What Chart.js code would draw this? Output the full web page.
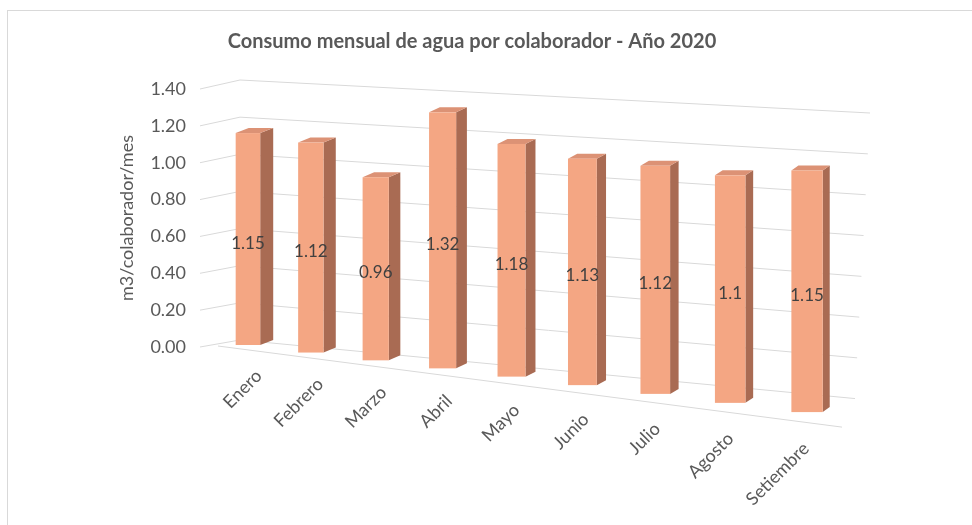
<!DOCTYPE html>
<html>
<head>
<meta charset="utf-8">
<script src="https://cdn.jsdelivr.net/npm/chart.js@4.4.1/dist/chart.umd.min.js"></script>
<style>
  html, body { margin: 0; padding: 0; background: #fff; }
  #wrap { position: relative; width: 972px; height: 525px; overflow: hidden; }
  #frame { position: absolute; left: 7px; top: 10px; width: 980px; height: 530px;
           border-left: 1px solid #d9d9d9; border-top: 1px solid #d9d9d9; }
  canvas { position: absolute; left: 0; top: 0; }
</style>
</head>
<body>
<div id="wrap">
  <div id="frame"></div>
  <canvas id="chart" width="972" height="525"></canvas>
</div>
<script>
// datos
const meses = ['Enero', 'Febrero', 'Marzo', 'Abril', 'Mayo', 'Junio', 'Julio', 'Agosto', 'Setiembre'];
const consumo = [1.15, 1.12, 0.96, 1.32, 1.18, 1.13, 1.12, 1.1, 1.15];
const yMin = 0;
const yMax = 1.4;
const yStep = 0.2;
const titulo = 'Consumo mensual de agua por colaborador - Año 2020';
const tituloEje = 'm3/colaborador/mes';

const FONT = 'Lato, "Open Sans", sans-serif';
const FRONT = '#F4A683';
const SIDE = '#A96B53';
const TOP = '#DC9275';
const GRID = '#D9D9D9';
const TEXT = '#595959';
const LABEL = '#404040';
const FLOOR_SLOPE = 0.13;

/**
 * Fake Excel 3D look: each bar keeps the x/y/base that the scales gave it,
 * then gets pushed into a simple perspective (floor going down to the right).
 */
const barGeom = (chart) => {
    const {chartArea: a, scales: {x}} = chart;
    const els = chart.getDatasetMeta(0).data;
    const c0 = x.getPixelForValue(0);
    const c1 = x.getPixelForValue(els.length - 1);
    return els.map((el) => {
        const s = (el.x - c0) / (c1 - c0);
        const xc = el.x - 64 * s * (1 - s);
        const grow = 1 + 0.14 * s;
        const base = a.bottom - 2 + (xc - c0) * 0.12;
        const top = base - (el.base - el.y) * grow;
        const w = el.width * (0.9 + 0.25 * s);
        return {s, xc, xl: xc - w / 2, xr: xc + w / 2, top, base, dx: 13 - 6 * s, dy: 5};
    });
};

const excel3d = {
    id: 'excel3d',
    beforeDatasetDraw() {
        return false;
    },
    afterDatasetsDraw(chart) {
        const {ctx, chartArea: a, scales: {y}} = chart;
        const h = a.bottom - a.top;
        const wallL = a.left + 27;
        const wallR = a.right + 28;
        const backY = (f, px) => {
            const t = (px - wallL) / (wallR - wallL);
            return a.top - 9 + t * 33 + (1 - f) * (h + 2 + t * 27);
        };
        const frontY = (px) => a.bottom - 1 + (px - a.left - 5) * FLOOR_SLOPE;

        ctx.save();
        // gridlines on side + back wall
        ctx.strokeStyle = GRID;
        ctx.lineWidth = 1;
        y.ticks.forEach((tk) => {
            const yf = y.getPixelForValue(tk.value);
            const f = (a.bottom - yf) / h;
            const xEnd = wallR - (1 - f) * 15;
            ctx.beginPath();
            ctx.moveTo(a.left - 13, yf);
            ctx.lineTo(wallL, backY(f, wallL));
            ctx.lineTo(xEnd, backY(f, xEnd));
            ctx.stroke();
        });
        // front edge of the floor
        ctx.beginPath();
        ctx.moveTo(a.left + 5, frontY(a.left + 5));
        ctx.lineTo(a.right, frontY(a.right));
        ctx.stroke();

        const geom = barGeom(chart);
        geom.forEach((g) => {
            // side
            ctx.fillStyle = SIDE;
            ctx.beginPath();
            ctx.moveTo(g.xr, g.top);
            ctx.lineTo(g.xr + g.dx, g.top - g.dy);
            ctx.lineTo(g.xr + g.dx, g.base - g.dy);
            ctx.lineTo(g.xr, g.base);
            ctx.closePath();
            ctx.fill();
            // top
            ctx.fillStyle = TOP;
            ctx.beginPath();
            ctx.moveTo(g.xl, g.top);
            ctx.lineTo(g.xr, g.top);
            ctx.lineTo(g.xr + g.dx, g.top - g.dy);
            ctx.lineTo(g.xl + g.dx, g.top - g.dy);
            ctx.closePath();
            ctx.fill();
            // front
            ctx.fillStyle = FRONT;
            ctx.fillRect(g.xl, g.top, g.xr - g.xl, g.base - g.top);
        });

        // value labels
        ctx.font = '17px ' + FONT;
        ctx.fillStyle = LABEL;
        ctx.textAlign = 'center';
        ctx.textBaseline = 'middle';
        geom.forEach((g, i) => {
            ctx.fillText(String(consumo[i]), g.xc, (g.top + g.base) / 2 + 4);
        });

        // category labels along the floor edge
        ctx.font = '18px ' + FONT;
        ctx.fillStyle = TEXT;
        ctx.textAlign = 'right';
        geom.forEach((g, i) => {
            ctx.save();
            ctx.translate(g.xc + 11 - 12 * g.s, frontY(g.xc) + 23);
            ctx.rotate(-Math.PI / 4);
            ctx.fillText(meses[i], 0, 0);
            ctx.restore();
        });
        ctx.restore();
    },
};

new Chart(document.getElementById('chart'), {
    type: 'bar',
    data: {
        labels: meses,
        datasets: [{
            label: tituloEje,
            data: consumo,
            backgroundColor: FRONT,
            barPercentage: 0.39,
            categoryPercentage: 1,
        }],
    },
    options: {
        responsive: false,
        animation: false,
        layout: {padding: {left: 102, right: 130, top: 0, bottom: 0}},
        plugins: {
            legend: {display: false},
            tooltip: {enabled: false},
            title: {
                display: true,
                text: titulo,
                color: TEXT,
                font: {family: FONT, size: 20, weight: 'bold'},
                padding: {top: 30, bottom: 35},
            },
        },
        scales: {
            x: {
                grid: {display: false, drawTicks: false},
                border: {display: false},
                ticks: {display: false},
                afterFit: (scale) => {
                    scale.height = 178;
                },
            },
            y: {
                min: yMin,
                max: yMax,
                grid: {display: false, drawTicks: false, tickLength: 0},
                border: {display: false},
                ticks: {
                    stepSize: yStep,
                    padding: 27,
                    color: TEXT,
                    font: {family: FONT, size: 18},
                    callback: (v) => Number(v).toFixed(2),
                },
                title: {
                    display: true,
                    text: tituloEje,
                    color: TEXT,
                    font: {family: FONT, size: 18},
                    padding: {top: 14, bottom: 0},
                },
                afterFit: (scale) => {
                    scale.width = 111;
                },
            },
        },
    },
    plugins: [excel3d],
});
</script>
</body>
</html>
